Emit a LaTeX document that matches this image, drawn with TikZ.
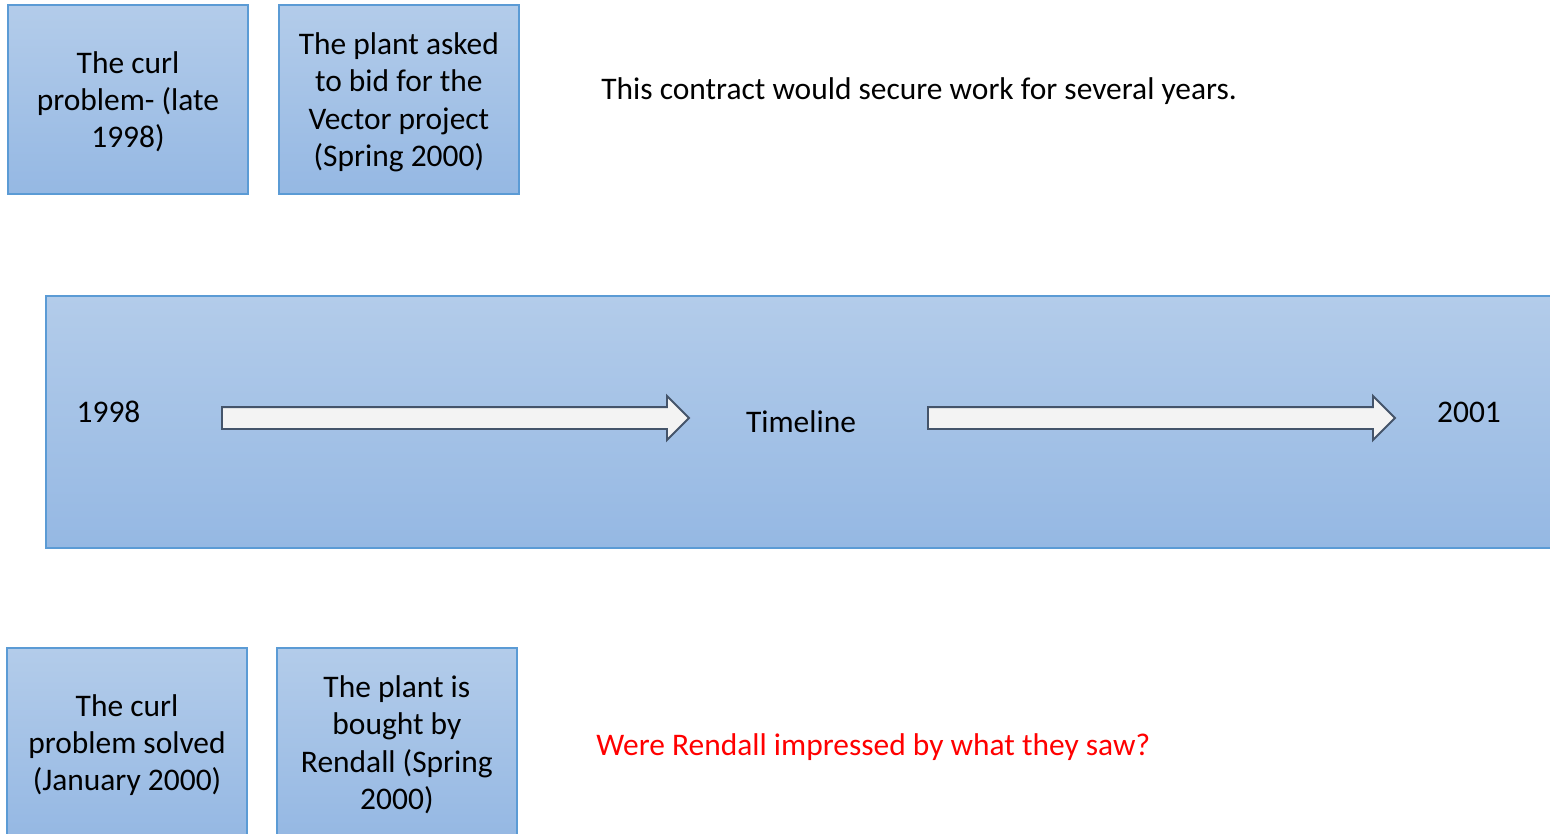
\documentclass[tikz,border=0pt]{standalone}
\usepackage{fontspec}
\setmainfont{Carlito}
\usetikzlibrary{shapes.arrows, positioning}

\definecolor{boxtop}{RGB}{179,204,234}
\definecolor{boxbot}{RGB}{149,184,227}
\definecolor{boxline}{RGB}{91,155,213}
\definecolor{arrline}{RGB}{68,84,106}
\definecolor{arrfill}{RGB}{243,243,243}

\begin{document}
\begin{tikzpicture}[
    x=0.02cm, y=-0.02cm,
    font=\fontsize{17.9}{21.3}\selectfont,
    % Styles
    event/.style={rectangle, draw=boxline, line width=1.1pt, top color=boxtop, bottom color=boxbot, minimum width=4.8cm, minimum height=3.78cm, align=center, inner sep=0pt, text depth=0pt},
    band/.style={rectangle, draw=boxline, line width=1.1pt, top color=boxtop, bottom color=boxbot, minimum width=31cm, minimum height=5.04cm, inner sep=0pt},
    flow/.style={single arrow, draw=arrline, line width=1.1pt, fill=arrfill, inner sep=0.2cm, minimum height=9.34cm, single arrow head extend=0.22cm, single arrow head indent=0pt},
    note/.style={anchor=west, inner sep=0pt}
]
\clip (0,0) rectangle (1550,833);

% ------------------- TOP EVENTS -------------------
\node[event] (curl) at (128,99.5) {The curl\\problem- (late\\1998)};
\node[event, right=0.58cm of curl] (bid) {The plant asked\\to bid for the\\Vector project\\(Spring 2000)};
\node[note] (contract) at (601,91) {This contract would secure work for several years.};

% ------------------- TIMELINE BAND -------------------
\node[band, anchor=north west] (line) at (45,295) {};
\node (start) at (108.5,412) {1998};
\node (mid) at (801,422) {Timeline};
\node (stop) at (1469,412) {2001};
\node[flow, anchor=west] (arr1) at (221,418) {};
\node[flow, anchor=west] (arr2) at (927,418) {};

% ------------------- BOTTOM EVENTS -------------------
\node[event] (solved) at (127,742.5) {The curl\\problem solved\\(January 2000)};
\node[event, right=0.56cm of solved] (bought) {The plant is\\bought by\\Rendall (Spring\\2000)};
\node[note, text=red] (question) at (596,747) {Were Rendall impressed by what they saw?};

\end{tikzpicture}
\end{document}
